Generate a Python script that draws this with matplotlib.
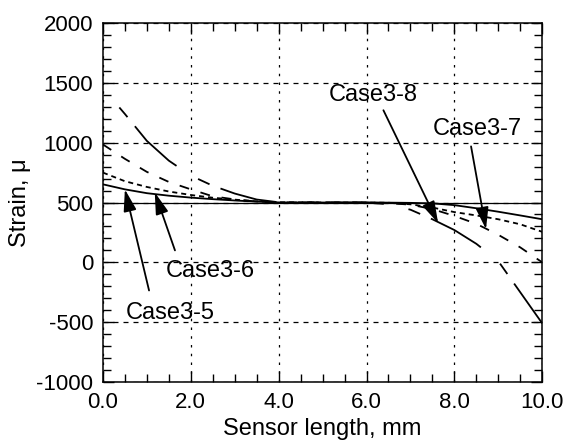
import numpy as np
import matplotlib
matplotlib.use("Agg")
import matplotlib.pyplot as plt
from matplotlib.ticker import MultipleLocator, FormatStrFormatter

plt.rcParams['font.family'] = ['Liberation Sans', 'DejaVu Sans']
plt.rcParams['axes.unicode_minus'] = False

# sensor position (mm) and strain readings for each case
x = [0.0, 0.5, 1.0, 1.5, 2.0, 2.5, 3.0, 3.5, 4.0, 5.0,
     6.0, 6.5, 7.0, 7.5, 8.0, 8.5, 9.0, 9.5, 10.0]
case3_5 = [652, 610, 578, 557, 541, 528, 517, 507, 501, 500,
           500, 499, 497, 493, 478, 452, 423, 392, 360]
case3_6 = [750, 678, 630, 592, 563, 540, 524, 510, 502, 500,
           500, 498, 485, 458, 420, 392, 360, 318, 255]
case3_7 = [985, 865, 756, 672, 610, 552, 526, 508, 500, 500,
           500, 495, 482, 445, 388, 322, 230, 125, 0]
case3_8 = [1455, 1240, 1015, 850, 725, 640, 575, 525, 502, 500,
           500, 485, 440, 360, 270, 155, 10, -250, -510]
reference = 500

labels = ["Case3-5", "Case3-6", "Case3-7", "Case3-8"]
# label baseline positions and arrow (tail, tip) in data units
label_pos = [(1.54, -471), (2.44, -126), (8.52, 1067), (6.15, 1345)]
arrow_tail = [(1.05, -235), (1.64, 100), (8.38, 969), (6.385, 1271)]
arrow_tip = [(0.50, 610), (1.18, 585), (8.72, 277), (7.63, 328)]

fig = plt.figure(figsize=(5.75, 4.47), dpi=100)
ax = fig.add_axes([0.179, 0.1454, 0.764, 0.8031])

lw = 1.3
ax.axhline(reference, color='k', lw=0.9, zorder=2)
ax.plot(x, case3_5, color='k', lw=lw, ls='-')
ax.plot(x, case3_6, color='k', lw=lw, ls=(0, (2.8, 2.2)))
ax.plot(x, case3_7, color='k', lw=lw, ls=(0, (5.5, 6.6)))
ax.plot(x, case3_8, color='k', lw=lw, ls=(32, (32, 14, 7, 6.5)))

for lab, p, t, h in zip(labels, label_pos, arrow_tail, arrow_tip):
    ax.text(p[0], p[1], lab, ha='center', va='baseline', fontsize=17)
    ax.annotate('', xy=h, xytext=t,
                arrowprops=dict(arrowstyle='-|>,head_length=0.95,head_width=0.28',
                                mutation_scale=14, lw=1.3, color='k',
                                shrinkA=0, shrinkB=0))

ax.set_xlim(0, 10)
ax.set_ylim(-1000, 2000)
ax.xaxis.set_major_locator(MultipleLocator(2))
ax.xaxis.set_minor_locator(MultipleLocator(0.5))
ax.yaxis.set_major_locator(MultipleLocator(500))
ax.yaxis.set_minor_locator(MultipleLocator(100))
ax.xaxis.set_major_formatter(FormatStrFormatter('%.1f'))

ax.tick_params(which='both', direction='in', top=True, right=True, width=1,
               labelsize=16)
ax.tick_params(axis='x', which='major', length=8, pad=7)
ax.tick_params(axis='y', which='major', length=8, pad=7)
ax.tick_params(which='minor', length=5.5)

ax.xaxis.grid(True, which='major', color='k', lw=0.9, ls=(0, (2, 5)))
ax.yaxis.grid(True, which='major', color='k', lw=0.9, ls=(0, (4, 4)))
for s in ax.spines.values():
    s.set_linewidth(1.1)

ax.set_xlabel('Sensor length, mm', fontsize=17, labelpad=4)
ax.set_ylabel('Strain, μ', fontsize=17, labelpad=4)

fig.savefig('out.png', dpi=100)
